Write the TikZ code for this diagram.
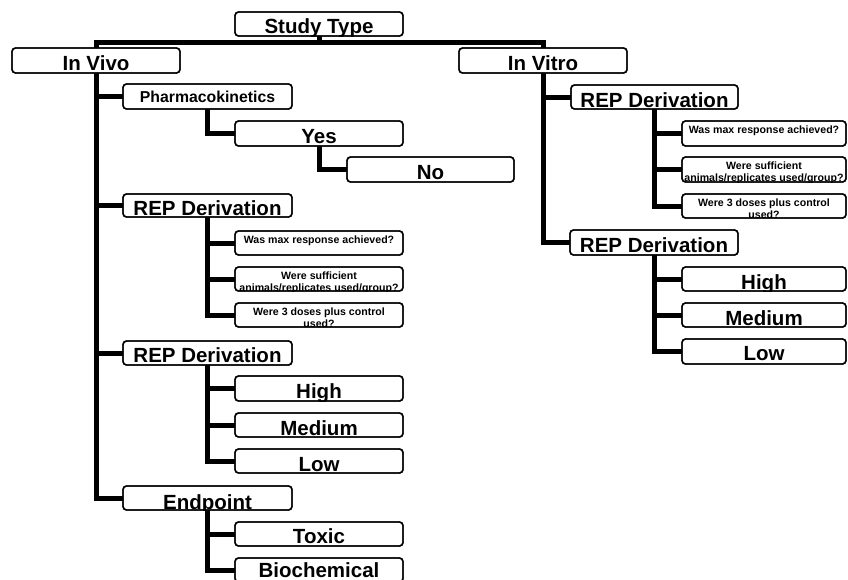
\documentclass[tikz,border=0pt]{standalone}
\usepackage{fontspec}
\setmainfont{Liberation Sans}
\begin{document}
\begin{tikzpicture}[x=1pt,y=-1pt,
  bxs/.style={draw=black, line width=1.4pt, fill=white, rounded corners=3.5pt, inner sep=0pt, outer sep=0pt, rectangle},
  conn/.style={line width=5pt, draw=black, line join=miter},
  big/.style={font=\fontsize{20.5}{24}\selectfont\bfseries},
  mid/.style={font=\fontsize{15.8}{19}\selectfont\bfseries},
  sml/.style={font=\fontsize{10.6}{12}\selectfont\bfseries},
  txt/.style={inner sep=0pt, outer sep=0pt, anchor=base}]
\clip (0,0) rectangle (848,579);
\fill[white] (0,0) rectangle (848,579);
% box macro: name, x1, y1, x2, y2, text-drawing code (inside clip)
\newcommand\bx[6]{%
  \node[bxs, minimum width={#4-#2}, minimum height={#5-#3}] (#1) at ({(#2+#4)/2},{(#3+#5)/2}) {};
  \begin{scope}
    \clip[rounded corners=3.5pt] (#2,#3) rectangle (#4,#5);
    #6
  \end{scope}
  \draw[line width=1.4pt, rounded corners=3.5pt] (#2,#3) rectangle (#4,#5);
}
\newcommand\tl[4]{\node[txt,#3] at (#1,#2) {#4};}
% ---------- boxes ----------
\bx{st}{235}{12}{403}{36}{\tl{319}{33}{big}{Study Type}}
\bx{viv}{12}{48}{180}{73}{\tl{96}{70}{big}{In Vivo}}
\bx{vit}{459}{48}{627}{73}{\tl{543}{70}{big}{In Vitro}}
% in vivo
\bx{pk}{123}{84}{292}{109}{\tl{207.5}{102}{mid}{Pharmacokinetics}}
\bx{yes}{235}{121}{403}{146}{\tl{319}{143}{big}{Yes}}
\bx{no}{347}{157}{514}{182}{\tl{430.5}{179}{big}{No}}
\bx{ra}{123}{194}{292}{217}{\tl{207.5}{215}{big}{REP Derivation}}
\bx{qa}{235}{231}{403}{255}{\tl{319}{243}{sml}{Was max response achieved?}}
\bx{qb}{235}{267}{403}{291}{\tl{319}{279}{sml}{Were sufficient}\tl{319}{291}{sml}{animals/replicates used/group?}}
\bx{qc}{235}{303}{403}{327}{\tl{319}{315.5}{sml}{Were 3 doses plus control}\tl{319}{327.5}{sml}{used?}}
\bx{rb}{123}{341}{292}{365}{\tl{207.5}{362}{big}{REP Derivation}}
\bx{ha}{235}{376}{403}{401}{\tl{319}{398}{big}{High}}
\bx{ma}{235}{413}{403}{437}{\tl{319}{435}{big}{Medium}}
\bx{la}{235}{449}{403}{473}{\tl{319}{471}{big}{Low}}
\bx{ep}{123}{486}{292}{510}{\tl{207.5}{509}{big}{Endpoint}}
\bx{tx}{235}{522}{403}{546}{\tl{319}{543}{big}{Toxic}}
\bx{bc}{235}{558}{403}{582}{\tl{319}{577.5}{big}{Biochemical}}
% in vitro
\bx{vra}{571}{85}{738}{109}{\tl{654.5}{107}{big}{REP Derivation}}
\bx{vqa}{682}{121}{846}{146}{\tl{764}{133}{sml}{Was max response achieved?}}
\bx{vqb}{682}{157}{846}{182}{\tl{764}{169.5}{sml}{Were sufficient}\tl{764}{181.5}{sml}{animals/replicates used/group?}}
\bx{vqc}{682}{194}{846}{218}{\tl{764}{206}{sml}{Were 3 doses plus control}\tl{764}{218}{sml}{used?}}
\bx{vrb}{570}{230}{738}{255}{\tl{654}{252}{big}{REP Derivation}}
\bx{vha}{682}{267}{846}{291}{\tl{764}{289}{big}{High}}
\bx{vma}{682}{303}{846}{327}{\tl{764}{325}{big}{Medium}}
\bx{vla}{682}{339}{846}{364}{\tl{764}{360}{big}{Low}}
% ---------- connectors ----------
\coordinate (bar) at (319,42);
\draw[conn] (st.south) -- (bar);
\draw[conn] (viv.north) |- (bar) -| (vit.north);
\draw[conn] (viv.south) |- (pk.west);
\draw[conn] (viv.south) |- (ra.west);
\draw[conn] (viv.south) |- (rb.west);
\draw[conn] (viv.south) |- (ep.west);
\draw[conn] (pk.south) |- (yes.west);
\draw[conn] (yes.south) |- (no.west);
\draw[conn] (ra.south) |- (qa.west);
\draw[conn] (ra.south) |- (qb.west);
\draw[conn] (ra.south) |- (qc.west);
\draw[conn] (rb.south) |- (ha.west);
\draw[conn] (rb.south) |- (ma.west);
\draw[conn] (rb.south) |- (la.west);
\draw[conn] (ep.south) |- (tx.west);
\draw[conn] (ep.south) |- (bc.west);
\draw[conn] (vit.south) |- (vra.west);
\draw[conn] (vit.south) |- (vrb.west);
\draw[conn] (vra.south) |- (vqa.west);
\draw[conn] (vra.south) |- (vqb.west);
\draw[conn] (vra.south) |- (vqc.west);
\draw[conn] (vrb.south) |- (vha.west);
\draw[conn] (vrb.south) |- (vma.west);
\draw[conn] (vrb.south) |- (vla.west);
\end{tikzpicture}
\end{document}
